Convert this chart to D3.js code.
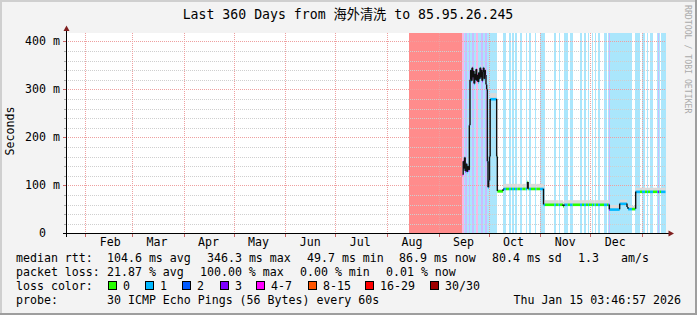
<!DOCTYPE html>
<html>
<head>
<meta charset="utf-8">
<script src="https://cdn.jsdelivr.net/npm/d3@7"></script>
<style>
html, body { margin: 0; padding: 0; background: #f3f3f3; }
svg { display: block; }
text { font-family: "DejaVu Sans Mono", "Noto Sans CJK SC", monospace; white-space: pre; }
</style>
</head>
<body>
<svg id="chart" width="697" height="315"></svg>
<script>
// 360 days ending at the probe time
var endTime = new Date(2026, 0, 15, 3, 46, 57);
var spanDays = 360;

// median rtt in ms, day = days since window start
var rttDay = [238.2, 238.6, 239.0, 239.4, 239.8, 240.3, 240.8, 241.2, 241.7, 242.3,
  242.7, 243.1, 243.5, 243.9, 244.3, 244.7, 245.1, 245.5, 245.9, 246.3,
  246.7, 247.1, 247.5, 247.9, 248.3, 248.7, 249.1, 249.5, 249.9, 250.3,
  250.7, 251.1, 251.5, 251.9, 252.3, 252.7, 253.1, 253.5, 253.9, 254.4,
  254.8, 258.7, 259.1, 262.5, 262.9, 277.2, 277.6, 286.8, 298.5, 299.1,
  326.3, 332.5, 336.9, 337.5, 342.1];
var rttMedian = [122, 150, 135, 158, 130, 145, 128, 140, 132, 225,
  320, 340, 318, 345, 325, 338, 312, 332, 320, 342,
  318, 330, 315, 335, 322, 345, 325, 340, 318, 336,
  345, 322, 340, 330, 310, 300, 150, 96, 110, 160,
  280, 160, 88, 92, 93, 107, 93, 60, 57, 60,
  50, 62, 55, 51, 87];
// smoke height above the median, ms
var rttSpread = [10, 8, 12, 6, 10, 8, 10, 6, 8, 10,
  8, 10, 8, 6, 10, 8, 10, 8, 10, 6,
  10, 8, 10, 8, 10, 6, 8, 10, 8, 6,
  8, 10, 6, 8, 10, 10, 10, 6, 8, 10,
  12, 8, 4, 6, 10, 4, 10, 9, 9, 9,
  9, 8, 6, 6, 8];

// loss periods (background bands)
var lossFrom  = [206.1, 237.9, 239.1, 239.7, 241.8, 243.9, 246.3, 249.3, 251.7, 262.5,
  266.1, 267.9, 269.7, 272.7, 276.1, 278.1, 281.7, 284.7, 293.3, 295.9,
  299.3, 302.7, 308.7, 311.1, 313.5, 315.9, 317.4, 319.5, 323.1, 325.5,
  326.1, 341.7, 345.9, 348.9, 350.7, 354.9, 355.5, 357.3];
var lossTo    = [237.9, 239.1, 258.9, 240.6, 242.7, 245.1, 247.5, 250.5, 252.6, 264.3,
  267.3, 269.1, 271.1, 274.1, 277.1, 279.3, 282.5, 287.7, 294.3, 296.7,
  301.3, 304.3, 309.9, 312.3, 314.1, 316.5, 318.3, 320.7, 324.9, 339.9,
  326.7, 344.7, 347.7, 349.5, 352.5, 356.4, 356.1, 360];
var lossLevel = [6, 4, 1, 3, 3, 3, 4, 3, 3, 1,
  1, 1, 1, 1, 1, 1, 1, 1, 1, 1,
  1, 1, 1, 1, 1, 1, 1, 1, 1, 1,
  3, 1, 1, 1, 1, 1, 3, 1];

var lossLabels = ['0', '1', '2', '3', '4-7', '8-15', '16-29', '30/30'];
var lossColors = ['#26ff00', '#00b8ff', '#0059ff', '#7e00ff', '#ff00ff', '#ff5500', '#ff0000', '#a00000'];
var lossBgColors = ['#c9ffbf', '#aae6fc', '#a6c5ff', '#c9bcff', '#f6b8e6', '#ffc2a6', '#ff8c8c', '#d9a6a6'];

var monthLabels = ['Feb', 'Mar', 'Apr', 'May', 'Jun', 'Jul', 'Aug', 'Sep', 'Oct', 'Nov', 'Dec'];
var firstLabelMonth = new Date(2025, 1, 1);
var yTickValues = [0, 100, 200, 300, 400];
var yTickLabels = ['0  ', '100 m', '200 m', '300 m', '400 m'];

var title = 'Last 360 Days from 海外清洗 to 85.95.26.245';
var rttStats = [['median rtt:', 16], ['104.6 ms avg', 107], ['346.3 ms max', 207], ['49.7 ms min', 307],
  ['86.9 ms now', 399], ['80.4 ms sd', 492], ['1.3', 578], ['am/s', 621]];
var lossStats = [['packet loss:', 16], ['21.87 % avg', 107], ['100.00 % max', 200], ['0.00 % min', 300], ['0.01 % now', 386]];
var probeText = '30 ICMP Echo Pings (56 Bytes) every 60s';
var stampText = 'Thu Jan 15 03:46:57 2026';

var W = 697, H = 315;
var svg = d3.select('#chart');
var startTime = new Date(endTime.getTime() - spanDays * 864e5);
var day = function (d) { return new Date(startTime.getTime() + d * 864e5); };

var x = d3.scaleTime().domain([startTime, endTime]).range([65.5, 665.5]);
var y = d3.scaleLinear().domain([0, 416.67]).range([233.3, 33.3]);
var px = function (v) { return Math.round(v) + 0.5; };

// background + shaded frame
svg.append('rect').attr('width', W).attr('height', H).attr('fill', '#f3f3f3');
svg.append('rect').attr('x', 0).attr('y', 0).attr('width', W).attr('height', 2).attr('fill', '#cfcfcf');
svg.append('rect').attr('x', 0).attr('y', 0).attr('width', 2).attr('height', H).attr('fill', '#cfcfcf');
svg.append('rect').attr('x', 0).attr('y', H - 2).attr('width', W).attr('height', 2).attr('fill', '#9e9e9e');
svg.append('rect').attr('x', W - 2).attr('y', 0).attr('width', 2).attr('height', H).attr('fill', '#9e9e9e');

// canvas
svg.append('rect').attr('x', 66).attr('y', 33).attr('width', 600).attr('height', 200).attr('fill', '#ffffff');

// loss bands
svg.append('g').selectAll('rect').data(lossFrom).join('rect')
  .attr('x', function (d) { return x(day(d)); })
  .attr('width', function (d, i) { return x(day(lossTo[i])) - x(day(d)); })
  .attr('y', 33).attr('height', 200)
  .attr('fill', function (d, i) { return lossBgColors[lossLevel[i]]; })
  .attr('shape-rendering', 'crispEdges');

// grid
var grid = svg.append('g');
var minorY = d3.range(20, 420, 20).filter(function (v) { return v % 100 !== 0; });
grid.selectAll('.ymin').data(minorY).join('line')
  .attr('x1', 66).attr('x2', 666)
  .attr('y1', function (d) { return px(y(d)); }).attr('y2', function (d) { return px(y(d)); })
  .attr('stroke', '#cfcfcf').attr('stroke-dasharray', '1,1');
grid.selectAll('.ymaj').data(yTickValues.slice(1)).join('line')
  .attr('x1', 66).attr('x2', 666)
  .attr('y1', function (d) { return px(y(d)); }).attr('y2', function (d) { return px(y(d)); })
  .attr('stroke', '#eea0a0').attr('stroke-dasharray', '1,1');
var months = d3.timeMonth.range(d3.timeMonth.ceil(startTime), endTime);
grid.selectAll('.xmaj').data(months).join('line')
  .attr('x1', function (d) { return px(x(d)); }).attr('x2', function (d) { return px(x(d)); })
  .attr('y1', 33).attr('y2', 233)
  .attr('stroke', '#eea0a0').attr('stroke-dasharray', '1,1');

// tick marks
grid.selectAll('.yt').data(minorY).join('line')
  .attr('x1', 64).attr('x2', 66)
  .attr('y1', function (d) { return px(y(d)); }).attr('y2', function (d) { return px(y(d)); })
  .attr('stroke', '#aaa');
grid.selectAll('.ytm').data(yTickValues).join('line')
  .attr('x1', 63).attr('x2', 66)
  .attr('y1', function (d) { return px(y(d)); }).attr('y2', function (d) { return px(y(d)); })
  .attr('stroke', '#c86464');
grid.selectAll('.xt').data(months).join('line')
  .attr('x1', function (d) { return px(x(d)); }).attr('x2', function (d) { return px(x(d)); })
  .attr('y1', 234).attr('y2', 237)
  .attr('stroke', '#c86464');

// split the median into pieces by loss level
var cuts = new Set(rttDay);
lossFrom.concat(lossTo).forEach(function (d) { if (d > rttDay[0] && d < spanDays) cuts.add(d); });
cuts.add(spanDays);
cuts = Array.from(cuts).sort(function (a, b) { return a - b; });
var pieces = [];
for (var k = 0; k < cuts.length - 1; k++) {
  var a = cuts[k], b = cuts[k + 1], mid = (a + b) / 2;
  var i = d3.bisectRight(rttDay, a) - 1;
  var lvl = 0;
  lossFrom.forEach(function (f, j) { if (mid >= f && mid < lossTo[j]) lvl = lossLevel[j]; });
  pieces.push({ a: a, b: b, v: rttMedian[i], s: rttSpread[i], lvl: lvl });
}

// smoke
svg.append('g').selectAll('rect').data(pieces).join('rect')
  .attr('x', function (d) { return x(day(d.a)); })
  .attr('width', function (d) { return x(day(d.b)) - x(day(d.a)); })
  .attr('y', function (d) { return y(d.v + d.s); })
  .attr('height', function (d) { return y(d.v) - y(d.v + d.s); })
  .attr('fill', '#dadada');

// coloured median
svg.append('g').selectAll('rect').data(pieces).join('rect')
  .attr('x', function (d) { return x(day(d.a)); })
  .attr('width', function (d) { return x(day(d.b)) - x(day(d.a)); })
  .attr('y', function (d) { return y(d.v) - 1; })
  .attr('height', 2.6)
  .attr('fill', function (d) { return lossColors[d.lvl]; });

// step connectors
svg.append('g').selectAll('line').data(rttDay.slice(1)).join('line')
  .attr('x1', function (d) { return x(day(d)); }).attr('x2', function (d) { return x(day(d)); })
  .attr('y1', function (d, i) { return y(rttMedian[i]); })
  .attr('y2', function (d, i) { return y(rttMedian[i + 1]); })
  .attr('stroke', '#111').attr('stroke-width', 1.4);

// axes
svg.append('line').attr('x1', 63).attr('x2', 670).attr('y1', 233.5).attr('y2', 233.5).attr('stroke', '#000');
svg.append('line').attr('x1', 66.5).attr('x2', 66.5).attr('y1', 237).attr('y2', 30).attr('stroke', '#000');
svg.append('path').attr('d', 'M63.5,31L66.5,25.5L69.5,31Z').attr('fill', '#7f1f1f');
svg.append('path').attr('d', 'M668.5,230.5L674,233.5L668.5,236.5Z').attr('fill', '#7f1f1f');

// y labels
svg.append('g').selectAll('text').data(yTickValues).join('text')
  .attr('x', 60).attr('y', function (d) { return y(d) + 4; })
  .attr('text-anchor', 'end').attr('font-size', 11.6).attr('fill', '#000')
  .text(function (d, i) { return yTickLabels[i]; });

// month labels
svg.append('g').selectAll('text').data(monthLabels).join('text')
  .attr('x', function (d, i) { return x(d3.timeDay.offset(d3.timeMonth.offset(firstLabelMonth, i), 15)); })
  .attr('y', 246).attr('text-anchor', 'middle').attr('font-size', 11.6)
  .text(function (d) { return d; });

// titles
svg.append('text').attr('x', 348).attr('y', 19).attr('text-anchor', 'middle')
  .attr('font-size', 13.2).text(title);
svg.append('text').attr('transform', 'translate(14,131) rotate(-90)')
  .attr('text-anchor', 'middle').attr('font-size', 11.6).text('Seconds');
svg.append('text').attr('transform', 'translate(685,5) rotate(90)')
  .attr('font-size', 8.2).attr('fill', '#aaaaaa').text('RRDTOOL / TOBI OETIKER');

// legend
var leg = svg.append('g').attr('font-size', 11.6);
leg.selectAll('.r1').data(rttStats).join('text')
  .attr('x', function (d) { return d[1]; }).attr('y', 262).text(function (d) { return d[0]; });
leg.selectAll('.r2').data(lossStats).join('text')
  .attr('x', function (d) { return d[1]; }).attr('y', 276).text(function (d) { return d[0]; });
leg.append('text').attr('x', 16).attr('y', 290).text('loss color:');
var boxX = [108, 145, 182, 220, 256, 308, 365, 430];
leg.selectAll('rect').data(lossLabels).join('rect')
  .attr('x', function (d, i) { return boxX[i] + 0.5; }).attr('y', 281.5)
  .attr('width', 8).attr('height', 8)
  .attr('fill', function (d, i) { return lossColors[i]; })
  .attr('stroke', '#000').attr('stroke-width', 1);
leg.selectAll('.lc').data(lossLabels).join('text')
  .attr('x', function (d, i) { return boxX[i] + 15; }).attr('y', 290)
  .text(function (d) { return d; });
leg.append('text').attr('x', 16).attr('y', 304).text('probe:');
leg.append('text').attr('x', 107).attr('y', 304).text(probeText);
leg.append('text').attr('x', 681).attr('y', 304).attr('text-anchor', 'end').text(stampText);
</script>
</body>
</html>
